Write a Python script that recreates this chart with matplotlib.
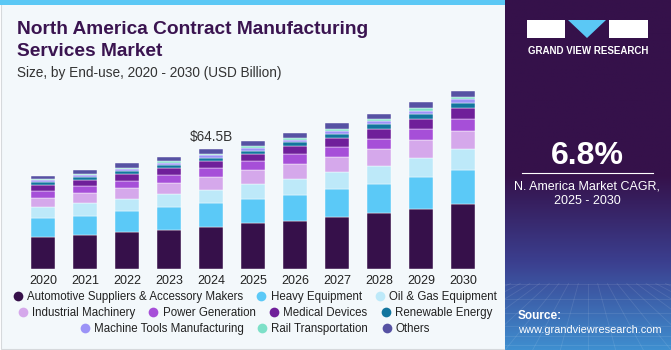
"""
North America contract manufacturing services market, stacked by end-use.
"""

import numpy as np
import matplotlib
matplotlib.use("Agg")
import matplotlib.pyplot as plt
from matplotlib.patches import Rectangle, Polygon
from matplotlib.lines import Line2D

plt.rcParams["font.family"] = ["Liberation Sans", "DejaVu Sans"]

W, H = 671, 350

years = ["2020", "2021", "2022", "2023", "2024", "2025",
         "2026", "2027", "2028", "2029", "2030"]

segments = ["Automotive Suppliers & Accessory Makers", "Heavy Equipment",
            "Oil & Gas Equipment", "Industrial Machinery", "Power Generation",
            "Medical Devices", "Renewable Energy", "Machine Tools Manufacturing",
            "Rail Transportation", "Others"]

# USD billion
automotive = [17.4, 18.5, 20.1, 21.2, 22.9, 24.6, 25.9, 27.9, 30.0, 32.2, 35.2]
heavy      = [9.9, 10.2, 11.2, 12.0, 12.6, 13.1, 14.0, 15.3, 16.0, 17.6, 18.3]
oil_gas    = [5.9, 6.8, 6.5, 7.2, 7.0, 8.1, 8.8, 9.0, 9.5, 10.1, 11.2]
industrial = [5.0, 5.6, 5.9, 5.9, 7.2, 7.5, 7.9, 8.1, 9.2, 9.7, 9.9]
power      = [3.8, 3.8, 3.8, 4.3, 4.9, 4.9, 5.4, 5.6, 5.4, 5.9, 6.5]
medical    = [3.4, 3.1, 3.8, 3.8, 3.4, 3.6, 4.2, 4.7, 5.6, 5.6, 5.9]
renewable  = [1.5, 1.6, 1.6, 1.8, 2.0, 2.0, 2.0, 2.2, 2.5, 2.5, 2.5]
machine    = [0.9, 1.1, 1.1, 1.1, 1.5, 1.5, 1.5, 1.5, 1.8, 1.8, 2.3]
rail       = [0.7, 0.7, 0.7, 0.9, 0.7, 1.1, 1.1, 0.9, 0.9, 1.2, 0.7]
others     = [1.8, 2.2, 2.2, 2.3, 2.3, 2.7, 2.7, 3.4, 2.7, 3.2, 3.2]

series = [automotive, heavy, oil_gas, industrial, power, medical,
          renewable, machine, rail, others]

colors = ["#36104a", "#5bc9f7", "#bde9f9", "#d5a8eb", "#a64fd8",
          "#6f1f9a", "#12759e", "#9b93f7", "#7de0c8", "#5652a3"]

legend_rows = [[0, 1, 2], [3, 4, 5, 6], [7, 8, 9]]

callout_year = "2024"
callout_text = "$64.5B"
cagr_text = "6.8%"

BG = "#f3f8fb"
DARK = "#35114a"


def fx(px):
    return px / W


def fy(py):
    # py measured from the top of the image
    return 1 - py / H


def sx(px):
    # x inside the right-hand panel axes
    return (px - 505) / (W - 505)


fig = plt.figure(figsize=(W / 100, H / 100), dpi=100)
fig.patch.set_facecolor("white")

# left card + top stripe (behind everything)
fig.patches.append(Rectangle((fx(1), fy(349)), fx(504), 348 / H,
                             transform=fig.transFigure, facecolor=BG,
                             edgecolor="#d6d9dc", lw=0.8, zorder=-2))
fig.patches.append(Rectangle((0, fy(5)), fx(505), 5 / H,
                             transform=fig.transFigure, facecolor="#5bc8f5",
                             edgecolor="none", zorder=-1))

# right dark panel with gradient bottom
side = fig.add_axes([fx(505), 0, fx(W - 505), 1])
side.set_xlim(0, 1)
side.set_ylim(0, 1)
side.axis("off")
grad = np.linspace(0, 1, 256)[:, None]
cmap = matplotlib.colors.LinearSegmentedColormap.from_list(
    "side", [DARK, DARK, DARK, "#3b3f8f", "#3f8fd0"])
side.imshow(grad, aspect="auto", cmap=cmap, extent=[0, 1, 0, 1],
            origin="upper", vmin=0, vmax=1)
# faint grid near the bottom
for k in np.linspace(-1.0, 2.0, 19):
    side.plot([0.5 + (k - 0.5) * 0.35, k], [0.19, 0.0], color="white",
              alpha=0.1, lw=0.6)
for yy in [0.015, 0.04, 0.07, 0.105, 0.145, 0.19]:
    side.plot([0, 1], [yy, yy], color="white", alpha=0.1, lw=0.6)

# logo
side.add_patch(Rectangle((sx(527), fy(38)), sx(565) - sx(527), 18 / H,
                         facecolor="white", edgecolor="none"))
side.add_patch(Polygon([(sx(568), fy(20)), (sx(606), fy(20)),
                        (sx(587), fy(38))], facecolor="#5bc8f5",
                       edgecolor="none"))
side.add_patch(Rectangle((sx(609), fy(38)), sx(648) - sx(609), 18 / H,
                         facecolor="white", edgecolor="none"))
side.text(sx(588), fy(51), "GRAND VIEW RESEARCH", color="white",
          fontsize=7, fontweight="bold", ha="center", va="center")

side.text(sx(587), fy(156), cagr_text, color="white", fontsize=23,
          fontweight="bold", ha="center", va="center")
side.plot([sx(522), sx(653)], [fy(173), fy(173)], color="white", lw=0.8)
side.text(sx(587), fy(186), "N. America Market CAGR,", color="white",
          fontsize=9, ha="center", va="center")
side.text(sx(587), fy(201), "2025 - 2030", color="white",
          fontsize=9, ha="center", va="center")
side.text(sx(518), fy(316), "Source:", color="white", fontsize=8.5,
          fontweight="bold", ha="left", va="center")
side.text(sx(518), fy(330), "www.grandviewresearch.com", color="white",
          fontsize=7.9, ha="left", va="center")

# titles
fig.text(fx(17), fy(29), "North America Contract Manufacturing",
         color="#3a1450", fontsize=13.8, fontweight="bold", va="center")
fig.text(fx(17), fy(52), "Services Market",
         color="#3a1450", fontsize=13.8, fontweight="bold", va="center")
fig.text(fx(17), fy(73), "Size, by End-use, 2020 - 2030 (USD Billion)",
         color="#333333", fontsize=9.8, va="center")

# chart
ppu = 42.0
x0 = 43.0
ax_left, ax_right = 20, 485
ax_top, ax_base = 85, 269
ymax = (ax_base - ax_top) * 0.539
ax = fig.add_axes([fx(ax_left), fy(ax_base), fx(ax_right - ax_left),
                   (ax_base - ax_top) / H])
ax.set_facecolor("none")
ax.set_xlim((ax_left - x0) / ppu, (ax_right - x0) / ppu)
ax.set_ylim(0, ymax)

xs = np.arange(len(years))
bottom = np.zeros(len(years))
for vals, col in zip(series, colors):
    ax.bar(xs, vals, width=24 / ppu, bottom=bottom, color=col,
           edgecolor="white", linewidth=0.3)
    bottom += np.array(vals)

i = years.index(callout_year)
ax.text(i, bottom[i] + 3, callout_text, ha="center", va="bottom",
        fontsize=9.8, color="#333333")

ax.set_xticks(xs)
ax.set_xticklabels(years, fontsize=9, color="#222222")
ax.tick_params(axis="x", length=0, pad=4)
ax.set_yticks([])
for s in ax.spines.values():
    s.set_visible(False)

# legend rows
row_y = [297, 313, 329]
for row, py in zip(legend_rows, row_y):
    handles = [Line2D([], [], marker="o", ls="none", markersize=7,
                      markerfacecolor=colors[k], markeredgecolor="none")
               for k in row]
    leg = fig.legend(handles, [segments[k] for k in row], ncol=len(row),
                     loc="center", bbox_to_anchor=(fx(254), fy(py)),
                     frameon=False, fontsize=8.3, handletextpad=0.2,
                     columnspacing=1.0, handlelength=1.2,
                     borderpad=0, borderaxespad=0)
    for t in leg.get_texts():
        t.set_color("#222222")

fig.savefig("out.png", dpi=100, facecolor=fig.get_facecolor())
